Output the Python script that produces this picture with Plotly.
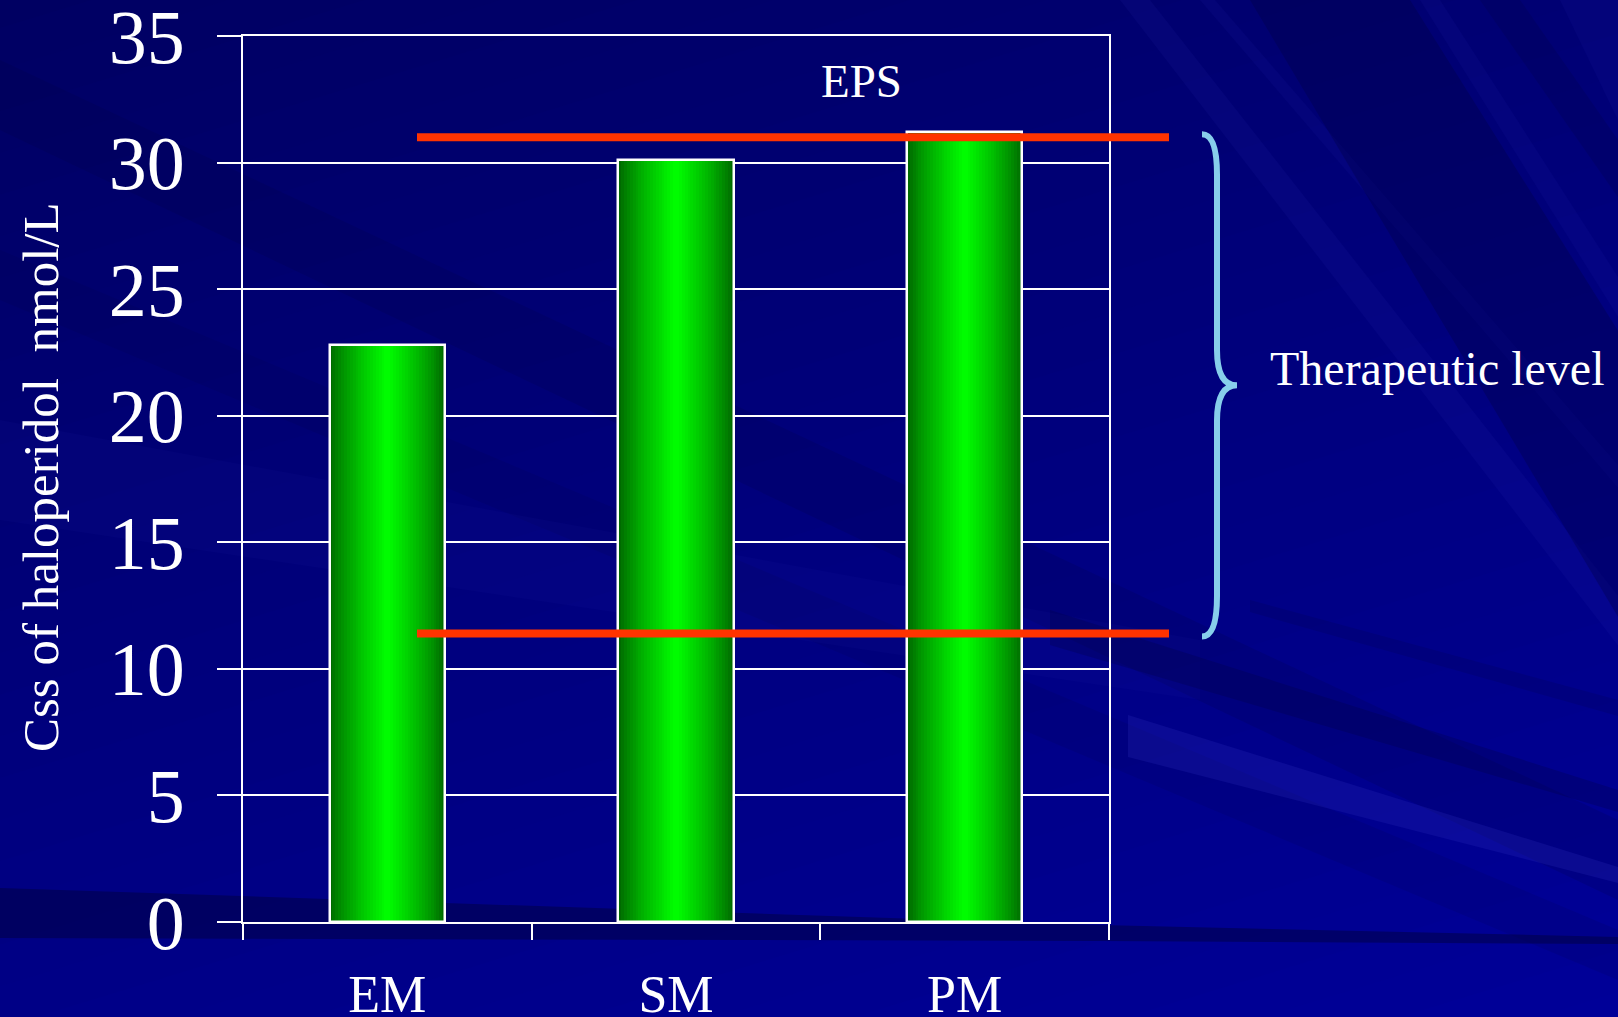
import math
import plotly.graph_objects as go

# ---------------- data ----------------
categories = ["EM", "SM", "PM"]
css_values = [22.8, 30.1, 31.2]
y_ticks = [0, 5, 10, 15, 20, 25, 30, 35]
therapeutic_low = 11.4
therapeutic_high = 31.0
y_title = "Css of haloperidol  nmol/L"
eps_label = "EPS"
ther_label = "Therapeutic level"

# ---------------- geometry ----------------
W, H = 1618, 1017
L, R, T, B = 243, 509, 36, 95
PW = W - L - R
PH = H - T - B
FONT = "Liberation Serif, Times New Roman, serif"


def pxp(x, y):
    """pixel -> paper coordinates (decorations only)"""
    return (x - L) / PW, (H - B - y) / PH


def pxx(x):
    return (x - L) / PW


def poly(pts, color, op=1.0):
    pp = [pxp(x, y) for x, y in pts]
    path = "M " + " L ".join(f"{a},{b}" for a, b in pp) + " Z"
    return dict(type="path", xref="paper", yref="paper", layer="below",
                path=path, fillcolor=color, opacity=op, line=dict(width=0))


fig = go.Figure()

# ---------------- bars (vertical strips for the cylinder gradient) ----------------
x_idx = list(range(len(categories)))
bar_w = 0.4
N = 40
for i in range(N):
    t = (i + 0.5) / N
    g = int(round(98 + 157 * (1 - abs(2 * t - 1)) ** 0.8))
    off = -bar_w / 2 + i * bar_w / N
    wid = min(1.6 * bar_w / N, (N - i) * bar_w / N)
    fig.add_trace(go.Bar(
        x=x_idx, y=css_values, width=wid, offset=off,
        marker=dict(color=f"rgb(0,{g},0)", line=dict(width=0)),
        showlegend=False, hoverinfo="skip"))

fig.add_trace(go.Bar(
    x=x_idx, y=css_values, width=bar_w,
    marker=dict(color="rgba(0,0,0,0)", line=dict(color="white", width=2.5)),
    showlegend=False, hoverinfo="y"))

# ---------------- background ----------------
shapes = []
# smooth gradient (dark upper-left -> lighter lower-right)
c0, ga, gb = 98.0, 0.011, 0.036
step = 1.5
xa, xb = -20, W + 20
k = 0
while True:
    lo = c0 - 2 + k * step
    if lo > c0 + ga * W + gb * H + 2:
        break
    hi = lo + step * 1.6
    ylo_a = (lo - c0 - ga * xa) / gb
    ylo_b = (lo - c0 - ga * xb) / gb
    yhi_a = (hi - c0 - ga * xa) / gb
    yhi_b = (hi - c0 - ga * xb) / gb
    cm = int(round(min(156, max(96, lo + step / 2))))
    shapes.append(poly([(xa, ylo_a), (xb, ylo_b), (xb, yhi_b), (xa, yhi_a)],
                       f"rgb(0,0,{cm})"))
    k += 1

DARK = "#000040"
LIGHT = "#3838C8"
# dark band along the bottom
shapes.append(poly([(0, 888), (1100, 925), (1618, 937), (1618, 944), (1100, 941), (0, 938)], DARK, 0.5))
# faint diagonal bands in upper-left / plot area
shapes.append(poly([(0, 60), (0, 130), (1618, 900), (1618, 820)], DARK, 0.16))
shapes.append(poly([(0, 250), (0, 300), (1618, 980), (1618, 930)], DARK, 0.12))
shapes.append(poly([(0, 420), (0, 520), (1200, 700), (1200, 640)], "#2020B0", 0.08))
# dark streaks lower right
shapes.append(poly([(1050, 610), (1618, 790), (1618, 812), (1050, 645)], DARK, 0.25))
shapes.append(poly([(1250, 600), (1618, 700), (1618, 716), (1250, 612)], DARK, 0.16))
# light ray lower right
shapes.append(poly([(1128, 715), (1618, 867), (1618, 883), (1128, 757)], LIGHT, 0.2))
# steep streaks in the top-right
shapes.append(poly([(1120, 0), (1150, 0), (1700, 700), (1660, 700)], LIGHT, 0.09))
shapes.append(poly([(1200, 0), (1215, 0), (1700, 560), (1680, 560)], LIGHT, 0.08))
shapes.append(poly([(1250, 0), (1410, 0), (1800, 620), (1620, 620)], DARK, 0.3))
shapes.append(poly([(1420, 0), (1440, 0), (1800, 560), (1770, 560)], LIGHT, 0.08))
shapes.append(poly([(1480, 0), (1520, 0), (1800, 400), (1760, 400)], DARK, 0.2))
shapes.append(poly([(1560, 0), (1618, 0), (1618, 120)], LIGHT, 0.08))

# ---------------- therapeutic range lines ----------------
for yv in (therapeutic_high, therapeutic_low):
    shapes.append(dict(type="line", xref="paper", yref="y", layer="above",
                       x0=pxx(417), x1=pxx(1169), y0=yv, y1=yv,
                       line=dict(color="#FF3300", width=8)))

# ---------------- brace ----------------
xl, xv, xt = pxx(1202), pxx(1217), pxx(1237)
yt = therapeutic_high + 0.12
yb = therapeutic_low - 0.12
ym = (yt + yb) / 2
d1, d2 = 1.6, 1.4
brace = (f"M {xl},{yt} Q {xv},{yt} {xv},{yt - d1} L {xv},{ym + d2} "
         f"Q {xv},{ym} {xt},{ym} Q {xv},{ym} {xv},{ym - d2} "
         f"L {xv},{yb + d1} Q {xv},{yb} {xl},{yb}")
shapes.append(dict(type="path", xref="paper", yref="y", layer="above", path=brace,
                   line=dict(color="#87CEEB", width=6)))

# ---------------- annotations ----------------
annotations = [
    dict(text=y_title, xref="paper", yref="paper", x=pxx(41), y=pxp(0, 477)[1],
         textangle=-90, showarrow=False, xanchor="center", yanchor="middle",
         font=dict(family=FONT, size=51, color="white")),
    dict(text=eps_label, xref="paper", yref="paper", x=pxx(861), y=pxp(0, 81)[1],
         showarrow=False, xanchor="center", yanchor="middle",
         font=dict(family=FONT, size=47, color="white")),
    dict(text=ther_label, xref="paper", yref="paper", x=pxx(1437), y=pxp(0, 369)[1],
         showarrow=False, xanchor="center", yanchor="middle",
         font=dict(family=FONT, size=48, color="white")),
]

fig.update_layout(
    width=W, height=H,
    margin=dict(l=L, r=R, t=T, b=B, autoexpand=False),
    paper_bgcolor="#000080",
    plot_bgcolor="rgba(0,0,0,0)",
    barmode="overlay",
    bargap=0,
    showlegend=False,
    shapes=shapes,
    annotations=annotations,
    xaxis=dict(
        range=[-0.5, 2.5], tickmode="array", tickvals=x_idx, ticktext=categories,
        ticks="", showline=True, linecolor="white", linewidth=2, mirror=True,
        showgrid=False, zeroline=False, ticklabelstandoff=26,
        ticklabeloverflow="allow",
        tickfont=dict(family=FONT, size=52, color="white"),
        minor=dict(tickmode="array", tickvals=[-0.5, 0.5, 1.5, 2.5], ticks="outside",
                   ticklen=16, tickwidth=2, tickcolor="white", showgrid=False),
    ),
    yaxis=dict(
        range=[0, 35], tickmode="array", tickvals=y_ticks,
        ticks="outside", ticklen=24, tickwidth=2, tickcolor="white",
        showline=True, linecolor="white", linewidth=2, mirror=True,
        showgrid=True, gridcolor="white", gridwidth=2, zeroline=False,
        ticklabelstandoff=17, ticklabeloverflow="allow",
        tickfont=dict(family=FONT, size=76, color="white"),
    ),
)

fig.write_html("out.html")
